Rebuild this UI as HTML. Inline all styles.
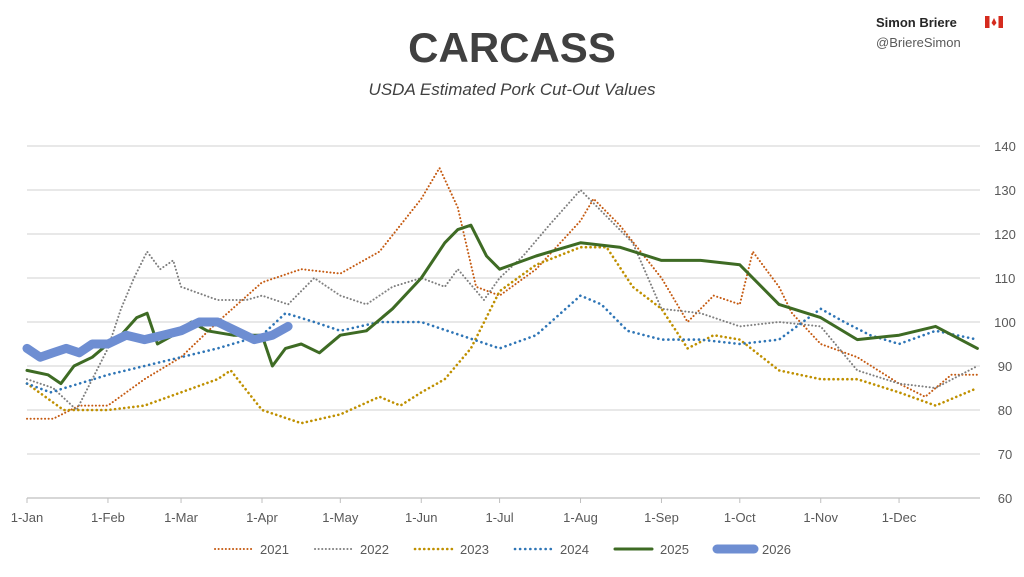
<!DOCTYPE html>
<html><head><meta charset="utf-8"><style>
body{margin:0;background:#fff;font-family:"Liberation Sans",sans-serif;}
#wrap{position:relative;width:1024px;height:577px;overflow:hidden;background:#fff}
</style></head><body>
<div id="wrap">
<svg id="chart" width="1024" height="577"></svg>
</div>
<script>
const categories = ["1-Jan","1-Feb","1-Mar","1-Apr","1-May","1-Jun","1-Jul","1-Aug","1-Sep","1-Oct","1-Nov","1-Dec"];
const tickDays = [0,31,59,90,120,151,181,212,243,273,304,334];
const yTicks = [60,70,80,90,100,110,120,130,140];
const seriesNames = ["2021","2022","2023","2024","2025","2026"];
const days2021 = [0,10,20,31,45,59,73,90,105,120,135,151,158,165,172,181,195,212,217,227,243,253,263,273,278,288,293,304,318,334,344,354,364];
const vals2021 = [78,78,81,81,87,92,100,109,112,111,116,128,135,126,108,106,112,123,128,122,110,100,106,104,116,108,102,95,92,86,83,88,88];
const days2022 = [0,10,19,31,36,41,46,51,56,59,73,84,90,100,110,120,130,140,151,160,165,175,181,190,200,212,222,232,243,258,273,288,304,318,334,348,364];
const vals2022 = [87,85,80,94,103,110,116,112,114,108,105,105,106,104,110,106,104,108,110,108,112,105,110,115,122,130,124,118,103,102,99,100,99,89,86,85,90];
const days2023 = [0,14,31,45,59,73,78,90,105,120,135,143,151,160,170,181,195,212,222,232,243,253,263,273,288,304,318,334,348,364];
const vals2023 = [86,80,80,81,84,87,89,80,77,79,83,81,84,87,94,107,113,117,117,108,103,94,97,96,89,87,87,84,81,85];
const days2024 = [0,9,31,45,59,73,90,99,110,120,135,151,166,181,195,212,220,230,243,258,273,288,304,313,323,334,348,364];
const vals2024 = [86,84,88,90,92,94,97,102,100,98,100,100,97,94,97,106,104,98,96,96,95,96,103,100,97,95,98,96];
const days2025 = [0,8,13,18,25,31,36,42,46,50,56,63,69,79,90,94,99,105,112,120,130,140,151,160,165,170,176,181,195,212,227,243,258,273,288,304,318,334,348,364];
const vals2025 = [89,88,86,90,92,95,97,101,102,95,97,100,98,97,97,90,94,95,93,97,98,103,110,118,121,122,115,112,115,118,117,114,114,113,104,101,96,97,99,94];
const days2026 = [0,5,10,15,20,25,31,38,45,52,59,66,73,80,87,94,100];
const vals2026 = [94,92,93,94,93,95,95,97,96,97,98,100,100,98,96,97,99];

const svg = document.getElementById('chart');
const NS = 'http://www.w3.org/2000/svg';
const X0 = 27, X1 = 980, Y0 = 498, Y1 = 146;
function xScale(d){ return X0 + d/365*(X1-X0); }
function yScale(v){ return Y0 - (v-60)/(140-60)*(Y0-Y1); }
function mk(tag, attrs){ const e=document.createElementNS(NS,tag); for(const k in attrs) e.setAttribute(k,attrs[k]); svg.appendChild(e); return e; }

yTicks.forEach(t=>{
  const l = mk('line',{x1:X0,x2:X1,y1:yScale(t),y2:yScale(t),stroke:t===60?'#bfbfbf':'#d9d9d9','stroke-width':1.3});
  
  
  const tx = mk('text',{x:1005,y:yScale(t)+5,'text-anchor':'middle','font-size':13,fill:'#595959','font-family':'Liberation Sans, sans-serif'});
  tx.textContent = t;
  
  
});
categories.forEach((c,i)=>{
  const x = xScale(tickDays[i]);
  const tk = mk('line',{x1:x,x2:x,y1:Y0,y2:Y0+5,stroke:'#bfbfbf'});
  
  
  const tx = mk('text',{x:x,y:522,'text-anchor':'middle','font-size':13,fill:'#595959','font-family':'Liberation Sans, sans-serif'});
  tx.textContent = c;
  
  
});

const styles = [
  {c:'#C55A11',w:2,d:'0.1 3.5',cap:'round'},
  {c:'#7F7F7F',w:2,d:'0.1 3.5',cap:'round'},
  {c:'#BF9000',w:2.6,d:'0.1 4.5',cap:'round'},
  {c:'#2E75B6',w:2.6,d:'0.1 5',cap:'round'},
  {c:'#3E6B24',w:3,d:'',cap:'round'},
  {c:'#6E8ED2',w:9,d:'',cap:'round'}
];
const allDays=[days2021,days2022,days2023,days2024,days2025,days2026];
const allVals=[vals2021,vals2022,vals2023,vals2024,vals2025,vals2026];
allDays.forEach((ds,i)=>{
  const pts = ds.map((d,j)=>xScale(d).toFixed(1)+','+yScale(allVals[i][j]).toFixed(1)).join(' ');
  const s=styles[i];
  const p = mk('polyline',{points:pts,fill:'none',stroke:s.c,'stroke-width':s.w,'stroke-linecap':s.cap,'stroke-linejoin':'round'});
  if(s.d) p.setAttribute('stroke-dasharray',s.d);
  
  
});

const legX=[215,315,415,515,615,717];
seriesNames.forEach((n,i)=>{
  const s=styles[i];
  const l = mk('line',{x1:legX[i],x2:legX[i]+37,y1:549,y2:549,stroke:s.c,'stroke-width':s.w,'stroke-linecap':s.cap});
  if(s.d) l.setAttribute('stroke-dasharray',s.d);
  
  
  const t = mk('text',{x:legX[i]+45,y:554,'font-size':13,fill:'#595959','font-family':'Liberation Sans, sans-serif'});
  t.textContent=n;
  
  
});

const title = mk('text',{x:512,y:62,'text-anchor':'middle','font-size':42,'font-weight':'bold',fill:'#404040','font-family':'Liberation Sans, sans-serif'});
title.textContent='CARCASS';


const sub = mk('text',{x:512,y:95,'text-anchor':'middle','font-size':17,'font-style':'italic',fill:'#404040','font-family':'Liberation Sans, sans-serif'});
sub.textContent='USDA Estimated Pork Cut-Out Values';


const au = mk('text',{x:876,y:27,'font-size':13,'font-weight':'bold',fill:'#262626','font-family':'Liberation Sans, sans-serif'});
au.textContent='Simon Briere';


const fl = mk('rect',{x:985,y:16,width:18,height:12,fill:'#fff'});


mk('rect',{x:985,y:16,width:4.5,height:12,fill:'#d52b1e'});
mk('rect',{x:998.5,y:16,width:4.5,height:12,fill:'#d52b1e'});
mk('polygon',{points:'994,18 996.5,23 994,26 991.5,23',fill:'#d52b1e'});
const hd = mk('text',{x:876,y:47,'font-size':13,fill:'#595959','font-family':'Liberation Sans, sans-serif'});
hd.textContent='@BriereSimon';


</script>
</body></html>
